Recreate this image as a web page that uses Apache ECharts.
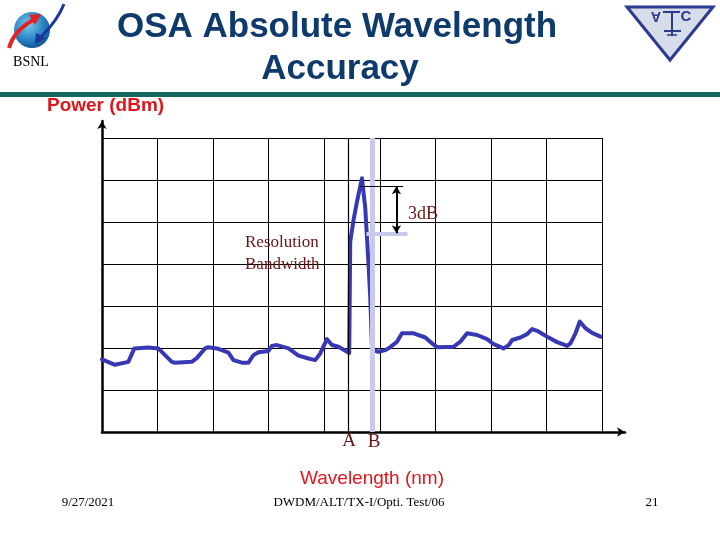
<!DOCTYPE html>
<html><head><meta charset="utf-8">
<script src="https://cdn.jsdelivr.net/npm/echarts@6/dist/echarts.min.js"></script>
<style>html,body{margin:0;padding:0;background:#fff}#c{width:720px;height:540px}</style>
</head><body><div id="c"></div>
<script>
// ---- data ----
const wavelength = [0,0.234,0.474,0.582,0.834,1.014,1.256,1.315,1.616,1.706,1.856,1.915,2.095,2.276,2.366,2.517,2.636,2.726,2.816,2.996,3.058,3.148,3.357,3.537,3.717,3.838,3.928,4.049,4.139,4.258,4.45,4.468,4.528,4.589,4.679,4.739,4.798,4.829,4.859,4.870,4.978,5.099,5.189,5.310,5.400,5.609,5.820,5.941,6.031,6.330,6.450,6.571,6.751,6.932,7.050,7.231,7.321,7.382,7.532,7.652,7.742,7.832,8.013,8.193,8.373,8.432,8.523,8.600,8.703,8.823,8.973];
const power = [1.73,1.60,1.67,1.99,2.01,1.99,1.67,1.65,1.67,1.76,1.99,2.02,1.98,1.89,1.71,1.65,1.65,1.83,1.90,1.93,2.05,2.07,1.99,1.82,1.75,1.71,1.87,2.21,2.07,2.03,1.88,4.53,5.05,5.48,6.04,5.33,3.98,3.19,2.03,1.95,1.91,1.95,2.02,2.15,2.35,2.35,2.25,2.11,2.02,2.03,2.15,2.35,2.31,2.21,2.09,1.99,2.07,2.19,2.25,2.33,2.45,2.41,2.27,2.14,2.05,2.11,2.35,2.63,2.47,2.36,2.27];
const xRange = [0, 9], xStep = 1;
const yRange = [0, 7], yStep = 1;
// annotation positions (data units)
const markerA = 4.44, markerB = 4.86;
const peakRef = 5.85, peakRefSpan = [4.65, 5.42];
const halfLevel = 4.73, halfSpan = [4.76, 5.50];
const arrowX = 5.30;
const markerLabels = ['A', 'B'];
const textTitle = ['OSA Absolute Wavelength', 'Accuracy'];
const yName = 'Power (dBm)', xName = 'Wavelength (nm)';
const footer = ['9/27/2021', 'DWDM/ALT/TX-I/Opti. Test/06', '21'];

const pts = wavelength.map((x, i) => [x, power[i]]);
const navy = '#0e3a6c', red = '#e0161c', maroon = '#6a1414';
const serif = '"Liberation Serif","DejaVu Serif",serif';
const sans = '"Liberation Sans",Arial,sans-serif';

function T(x, y, text, font, fill, align, valign, extra, props) {
  return Object.assign({type:'text', x, y, z:10, style:Object.assign({text, font, fill, align:align||'left', verticalAlign:valign||'middle', textAlign:align||'left', textVerticalAlign:valign||'middle'}, extra||{})}, props||{});
}
const shadow = {textShadowColor:'rgba(120,120,120,0.5)', textShadowOffsetX:2, textShadowOffsetY:2};

const chart = echarts.init(document.getElementById('c'), null, {renderer:'canvas'});
chart.setOption({
  animation:false,
  backgroundColor:'#fff',
  grid:[
    {left:102, top:138, width:500, height:294},
    {left:102, top:121, width:523, height:311}
  ],
  xAxis:[
    {type:'value', gridIndex:0, min:xRange[0], max:xRange[1], interval:xStep,
     axisLine:{show:false}, axisTick:{show:false}, axisLabel:{show:false},
     splitLine:{show:true, lineStyle:{color:'#000', width:1}}},
    {type:'value', gridIndex:1, min:0, max:1, axisTick:{show:false}, axisLabel:{show:false}, splitLine:{show:false},
     axisLine:{show:true, symbol:['none','arrow'], symbolSize:[7,8], lineStyle:{color:'#000', width:2.5}}}
  ],
  yAxis:[
    {type:'value', gridIndex:0, min:yRange[0], max:yRange[1], interval:yStep,
     axisLine:{show:false}, axisTick:{show:false}, axisLabel:{show:false},
     splitLine:{show:true, lineStyle:{color:'#000', width:1}}},
    {type:'value', gridIndex:1, min:0, max:1, axisTick:{show:false}, axisLabel:{show:false}, splitLine:{show:false},
     axisLine:{show:true, symbol:['none','arrow'], symbolSize:[7,8], lineStyle:{color:'#000', width:2.5}}}
  ],
  series:[
    {type:'line', xAxisIndex:0, yAxisIndex:0, data:[], z:1, silent:true,
     markLine:{silent:true, symbol:'none', label:{show:false},
       data:[
         [{coord:[markerA, yRange[0]], lineStyle:{color:'#000', width:1.2, type:'solid'}}, {coord:[markerA, yRange[1]]}],
         [{coord:[markerB, yRange[0]], lineStyle:{color:'#c9c9f0', width:5, type:'solid'}}, {coord:[markerB, yRange[1]]}],
         [{coord:[halfSpan[0], halfLevel], lineStyle:{color:'#c9c9f0', width:4, type:'solid'}}, {coord:[halfSpan[1], halfLevel]}]
       ]}},
    {type:'line', xAxisIndex:0, yAxisIndex:0, data:pts, z:3, showSymbol:false, symbol:'none', smooth:false,
     lineStyle:{color:'#3838b4', width:4, join:'round', cap:'round'}},
    {type:'line', xAxisIndex:0, yAxisIndex:0, data:[], z:4, silent:true,
     markLine:{silent:true, symbol:'none', label:{show:false},
       data:[
         [{coord:[peakRefSpan[0], peakRef], lineStyle:{color:'#000', width:1, type:'solid'}}, {coord:[peakRefSpan[1], peakRef]}]
       ]}},
    {type:'line', xAxisIndex:0, yAxisIndex:0, data:[], z:4, silent:true,
     markLine:{silent:true, symbol:['arrow','arrow'], symbolSize:[7,8], label:{show:false},
       data:[
         [{coord:[arrowX, peakRef], lineStyle:{color:'#000', width:2, type:'solid'}}, {coord:[arrowX, halfLevel]}]
       ]}}
  ],
  graphic:[
    // header rule
    {type:'rect', shape:{x:0, y:92, width:720, height:5}, style:{fill:'#16685e'}, z:5},
    // BSNL logo (approx.)
    {type:'circle', shape:{cx:32, cy:30, r:18}, z:5,
     style:{fill:{type:'radial', x:0.4, y:0.35, r:0.75, colorStops:[{offset:0,color:'#7cc8ea'},{offset:0.6,color:'#2580c2'},{offset:1,color:'#0c4680'}]}}},
    {type:'bezierCurve', shape:{x1:9, y1:48, x2:35, y2:19, cpx1:14, cpy1:30}, z:6, style:{stroke:'#e52222', lineWidth:4, fill:null}},
    {type:'polygon', shape:{points:[[29,15],[41,14],[35,25]]}, z:6, style:{fill:'#e52222'}},
    {type:'bezierCurve', shape:{x1:64, y1:4, x2:40, y2:38, cpx1:58, cpy1:20}, z:6, style:{stroke:'#1c35a0', lineWidth:3, fill:null}},
    {type:'polygon', shape:{points:[[35,44],[36,33],[46,38]]}, z:6, style:{fill:'#1c35a0'}},
    T(31, 62, 'BSNL', '14px '+serif, '#000', 'center', 'middle'),
    // ALTTC logo (approx.)
    {type:'polygon', shape:{points:[[627,7],[713,7],[670,60]]}, z:5, style:{fill:'#d6dcea', stroke:'#2b3b8e', lineWidth:3}},
    T(656, 16, 'A', 'bold 14px '+sans, '#2b3b8e', 'center', 'middle', {}, {rotation:Math.PI}),
    {type:'polyline', shape:{points:[[663,12],[680,12]]}, z:6, style:{stroke:'#2b3b8e', lineWidth:2}},
    {type:'polyline', shape:{points:[[672,12],[672,36]]}, z:6, style:{stroke:'#2b3b8e', lineWidth:2}},
    {type:'polyline', shape:{points:[[664,31],[681,31]]}, z:6, style:{stroke:'#2b3b8e', lineWidth:2}},
    {type:'polyline', shape:{points:[[667,35],[677,35]]}, z:6, style:{stroke:'#2b3b8e', lineWidth:1.5}},
    T(686, 17, 'C', 'bold 15px '+sans, '#2b3b8e', 'center', 'middle'),
    // title
    T(337, 27, textTitle[0], 'bold 35px '+sans, navy, 'center', 'middle', shadow),
    T(340, 69, textTitle[1], 'bold 35px '+sans, navy, 'center', 'middle', shadow),
    // axis names
    T(47, 106, yName, 'bold 19px '+sans, red, 'left', 'middle', {textShadowColor:'rgba(120,120,120,0.55)', textShadowOffsetX:1.5, textShadowOffsetY:1.5}),
    T(372, 479, xName, '19px '+sans, red, 'center', 'middle'),
    // annotations
    T(245, 243, 'Resolution', '17px '+serif, maroon, 'left', 'middle'),
    T(245, 265, 'Bandwidth', '17px '+serif, maroon, 'left', 'middle'),
    T(408, 214, '3dB', '18px '+serif, maroon, 'left', 'middle'),
    T(349, 441, markerLabels[0], '19px '+serif, maroon, 'center', 'middle'),
    T(374, 442, markerLabels[1], '19px '+serif, maroon, 'center', 'middle'),
    // footer
    T(88, 503, footer[0], '13px '+serif, '#000', 'center', 'middle'),
    T(359, 503, footer[1], '13px '+serif, '#000', 'center', 'middle'),
    T(652, 503, footer[2], '13px '+serif, '#000', 'center', 'middle')
  ]
});
</script>
</body></html>
